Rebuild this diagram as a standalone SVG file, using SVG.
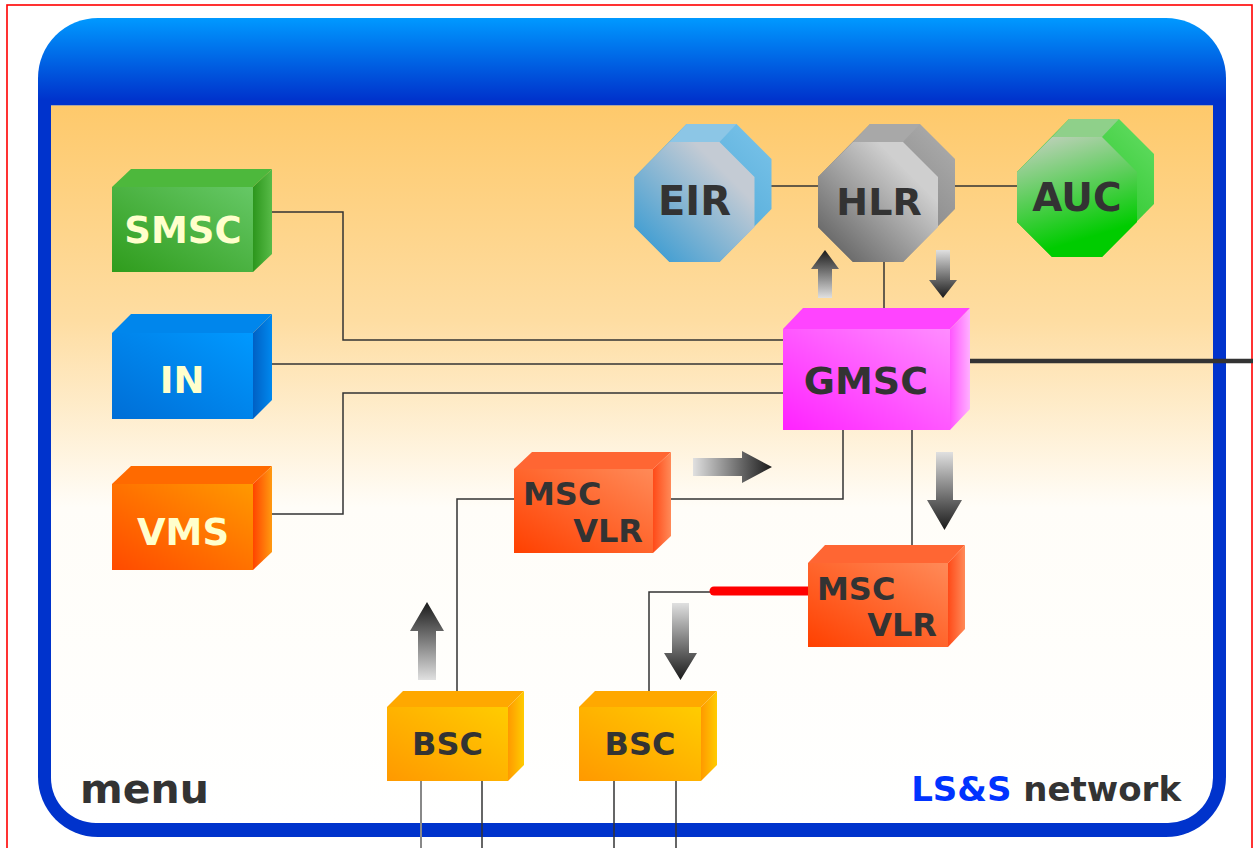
<svg xmlns="http://www.w3.org/2000/svg" width="1253" height="848" viewBox="0 0 1253 848">
  <style>
    .ln { fill: none; stroke: #333; stroke-width: 1.5; }
    .lbl { font-family: "DejaVu Sans", Verdana, sans-serif; font-weight: bold; fill: #333; }
    .lt { fill: #ffffcc; }
  </style>
  <defs>
    <!-- frame -->
    <linearGradient id="gBar" x1="0" y1="18" x2="0" y2="837" gradientUnits="userSpaceOnUse">
      <stop offset="0" stop-color="#0099ff"/>
      <stop offset="0.1" stop-color="#0033cc"/>
      <stop offset="1" stop-color="#0033cc"/>
    </linearGradient>
    <linearGradient id="gPanel" x1="0" y1="105" x2="0" y2="823" gradientUnits="userSpaceOnUse">
      <stop offset="0" stop-color="#fec96b"/>
      <stop offset="0.3" stop-color="#fedda2"/>
      <stop offset="0.56" stop-color="#fffdf8"/>
      <stop offset="1" stop-color="#ffffff"/>
    </linearGradient>
    <!-- arrows -->
    <linearGradient id="aRight" x1="0" y1="0" x2="1" y2="0">
      <stop offset="0" stop-color="#e0e0e0"/><stop offset="1" stop-color="#1a1a1a"/>
    </linearGradient>
    <linearGradient id="aUp" x1="0" y1="1" x2="0" y2="0">
      <stop offset="0" stop-color="#e0e0e0"/><stop offset="1" stop-color="#1a1a1a"/>
    </linearGradient>
    <linearGradient id="aDown" x1="0" y1="0" x2="0" y2="1">
      <stop offset="0" stop-color="#e0e0e0"/><stop offset="1" stop-color="#1a1a1a"/>
    </linearGradient>
    <!-- box faces -->
    <linearGradient id="grF" x1="0" y1="1" x2="1" y2="0"><stop offset="0" stop-color="#2f9c1c"/><stop offset="1" stop-color="#66c866"/></linearGradient>
    <linearGradient id="grS" x1="0" y1="0" x2="1" y2="0"><stop offset="0" stop-color="#2c961c"/><stop offset="1" stop-color="#58bb48"/></linearGradient>
    <linearGradient id="blF" x1="0" y1="1" x2="1" y2="0"><stop offset="0" stop-color="#006ed6"/><stop offset="1" stop-color="#0099ff"/></linearGradient>
    <linearGradient id="blS" x1="0" y1="0" x2="1" y2="0"><stop offset="0" stop-color="#0060c4"/><stop offset="1" stop-color="#0088ee"/></linearGradient>
    <linearGradient id="orF" x1="0" y1="1" x2="1" y2="0"><stop offset="0" stop-color="#ff4a00"/><stop offset="1" stop-color="#ff9900"/></linearGradient>
    <linearGradient id="orS" x1="0" y1="0" x2="1" y2="0"><stop offset="0" stop-color="#ff4400"/><stop offset="1" stop-color="#ff9a10"/></linearGradient>
    <linearGradient id="mgF" x1="0" y1="1" x2="1" y2="0"><stop offset="0" stop-color="#ff22ff"/><stop offset="1" stop-color="#ff8cff"/></linearGradient>
    <linearGradient id="mgS" x1="0" y1="0" x2="1" y2="0"><stop offset="0" stop-color="#ff55ff"/><stop offset="1" stop-color="#ffb0ff"/></linearGradient>
    <linearGradient id="rdF" x1="0" y1="1" x2="1" y2="0"><stop offset="0" stop-color="#ff4000"/><stop offset="1" stop-color="#ff8a58"/></linearGradient>
    <linearGradient id="rdS" x1="0" y1="0" x2="1" y2="0"><stop offset="0" stop-color="#ff4a18"/><stop offset="1" stop-color="#ff8a58"/></linearGradient>
    <linearGradient id="ylF" x1="0" y1="1" x2="1" y2="0"><stop offset="0" stop-color="#ff9900"/><stop offset="1" stop-color="#ffcc00"/></linearGradient>
    <linearGradient id="ylS" x1="0" y1="0" x2="1" y2="0"><stop offset="0" stop-color="#ff9900"/><stop offset="1" stop-color="#ffcc00"/></linearGradient>
    <!-- octagon faces -->
    <linearGradient id="eiF" x1="0" y1="1" x2="1" y2="0"><stop offset="0" stop-color="#2a96d2"/><stop offset="0.75" stop-color="#c4cbd4"/></linearGradient>
    <linearGradient id="eiS" x1="0" y1="1" x2="1" y2="0"><stop offset="0" stop-color="#3399cc"/><stop offset="1" stop-color="#7cc4ea"/></linearGradient>
    <linearGradient id="hlF" x1="0" y1="1" x2="1" y2="0"><stop offset="0" stop-color="#555555"/><stop offset="0.75" stop-color="#cfcfcf"/></linearGradient>
    <linearGradient id="hlS" x1="0" y1="1" x2="1" y2="0"><stop offset="0" stop-color="#666666"/><stop offset="1" stop-color="#b0b0b0"/></linearGradient>
    <linearGradient id="auF" x1="0.3" y1="0" x2="0.6" y2="1"><stop offset="0" stop-color="#b8d0b4"/><stop offset="0.85" stop-color="#00cc00"/></linearGradient>
    <linearGradient id="auS" x1="0" y1="1" x2="1" y2="0"><stop offset="0" stop-color="#00b800"/><stop offset="1" stop-color="#66dd66"/></linearGradient>
    <!-- octagon geometry around a centre point -->
    <polygon id="octHull" points="-60,-25 -8,-78 42,-78 77,-43 77,7 25,60 -25,60 -60,25"/>
    <polygon id="octTop" points="-25,-60 25,-60 42,-78 -8,-78"/>
    <polygon id="octFront" points="-25,-60 25,-60 60,-25 60,25 25,60 -25,60 -60,25 -60,-25"/>
  </defs>

  <!-- page border -->
  <rect x="7" y="5" width="1245" height="900" fill="none" stroke="#ff0000" stroke-width="1.6"/>

  <!-- frame -->
  <g id="frame">
    <rect x="38" y="18" width="1188" height="819" rx="60" ry="60" fill="url(#gBar)"/>
    <path d="M51,105 H1213 V778 A45,45 0 0 1 1168,823 H96 A45,45 0 0 1 51,778 Z" fill="url(#gPanel)"/>
    <line x1="51" y1="105.5" x2="1213" y2="105.5" stroke="#7a8cc0" stroke-width="1" opacity="0.6"/>
  </g>

  <!-- connectors -->
  <g id="connectors">
    <path class="ln" d="M272,212 H343 V340 H783"/>
    <path class="ln" d="M272,364 H783"/>
    <path class="ln" d="M272,514 H343 V393 H783"/>
    <path class="ln" d="M755,186 H818"/>
    <path class="ln" d="M938,186 H1017"/>
    <path class="ln" d="M884,262 V308"/>
    <path d="M970,361 H1253" fill="none" stroke="#333" stroke-width="4.5"/>
    <path class="ln" d="M843,430 V499 H671"/>
    <path class="ln" d="M514,499 H457 V691"/>
    <path class="ln" d="M912,430 V545"/>
    <path class="ln" d="M714,592 H649 V691"/>
    <path d="M714,591 H808" fill="none" stroke="#ff0000" stroke-width="9" stroke-linecap="round"/>
    <path d="M421,781 V848" fill="none" stroke="#888" stroke-width="2"/>
    <path class="ln" d="M482,781 V848"/>
    <path class="ln" d="M614,781 V848"/>
    <path class="ln" d="M676,781 V848"/>
  </g>

  <!-- flow arrows -->
  <g id="arrows">
    <polygon points="818,298 818,269 811,269 825,250 839,269 832,269 832,298" fill="url(#aUp)"/>
    <polygon points="936,250 950,250 950,280 957,280 943,298 929,280 936,280" fill="url(#aDown)"/>
    <polygon points="693,458 742,458 742,451 772,467 742,483 742,476 693,476" fill="url(#aRight)"/>
    <polygon points="936,452 953,452 953,500 962,500 944.5,530 927,500 936,500" fill="url(#aDown)"/>
    <polygon points="418,680 418,631 410,631 427,602 444,631 436,631 436,680" fill="url(#aUp)"/>
    <polygon points="672,603 689,603 689,653 697,653 680.5,680 664,653 672,653" fill="url(#aDown)"/>
  </g>

  <!-- database nodes -->
  <g id="node-eir" transform="translate(694.5,202)">
    <use href="#octHull" fill="url(#eiS)"/>
    <use href="#octTop" fill="#8cc6e6"/>
    <use href="#octFront" fill="url(#eiF)"/>
    <text class="lbl" x="0" y="13" font-size="40" text-anchor="middle">EIR</text>
  </g>
  <g id="node-hlr" transform="translate(878,202)">
    <use href="#octHull" fill="url(#hlS)"/>
    <use href="#octTop" fill="#a8a8a8"/>
    <use href="#octFront" fill="url(#hlF)"/>
    <text class="lbl" x="1" y="13" font-size="38" text-anchor="middle">HLR</text>
  </g>
  <g id="node-auc" transform="translate(1077,197)">
    <use href="#octHull" fill="url(#auS)"/>
    <use href="#octTop" fill="#8fd08a"/>
    <use href="#octFront" fill="url(#auF)"/>
    <text class="lbl" x="0" y="14" font-size="39" text-anchor="middle">AUC</text>
  </g>

  <!-- service nodes -->
  <g id="node-smsc">
    <polygon points="112,187 131,169 272,169 253,187" fill="#4db83c"/>
    <polygon points="253,187 272,169 272,254 253,272" fill="url(#grS)"/>
    <rect x="112" y="187" width="141" height="85" fill="url(#grF)"/>
    <text class="lbl lt" x="183" y="243" font-size="37" text-anchor="middle">SMSC</text>
  </g>
  <g id="node-in">
    <polygon points="112,333 131,314 272,314 253,333" fill="#0086ec"/>
    <polygon points="253,333 272,314 272,400 253,419" fill="url(#blS)"/>
    <rect x="112" y="333" width="141" height="86" fill="url(#blF)"/>
    <text class="lbl lt" x="182" y="393" font-size="37" text-anchor="middle">IN</text>
  </g>
  <g id="node-vms">
    <polygon points="112,484 131,466 272,466 253,484" fill="#ff6a00"/>
    <polygon points="253,484 272,466 272,552 253,570" fill="url(#orS)"/>
    <rect x="112" y="484" width="141" height="86" fill="url(#orF)"/>
    <text class="lbl lt" x="183" y="545" font-size="37" text-anchor="middle">VMS</text>
  </g>

  <!-- switching nodes -->
  <g id="node-gmsc">
    <polygon points="783,329 803,308 970,308 950,329" fill="#ff44ff"/>
    <polygon points="950,329 970,308 970,409 950,430" fill="url(#mgS)"/>
    <rect x="783" y="329" width="167" height="101" fill="url(#mgF)"/>
    <text class="lbl" x="866" y="394" font-size="38" text-anchor="middle">GMSC</text>
  </g>
  <g id="node-msc-vlr-1">
    <polygon points="514,469 532,452 671,452 653,469" fill="#ff6633"/>
    <polygon points="653,469 671,452 671,536 653,553" fill="url(#rdS)"/>
    <rect x="514" y="469" width="139" height="84" fill="url(#rdF)"/>
    <text class="lbl" x="523" y="505" font-size="32">MSC</text>
    <text class="lbl" x="643" y="542" font-size="32" text-anchor="end">VLR</text>
  </g>
  <g id="node-msc-vlr-2">
    <polygon points="808,563 825,545 965,545 948,563" fill="#ff6633"/>
    <polygon points="948,563 965,545 965,629 948,647" fill="url(#rdS)"/>
    <rect x="808" y="563" width="140" height="84" fill="url(#rdF)"/>
    <text class="lbl" x="817" y="600" font-size="32">MSC</text>
    <text class="lbl" x="937" y="636" font-size="32" text-anchor="end">VLR</text>
  </g>
  <g id="node-bsc-1">
    <polygon points="387,707 403,691 524,691 508,707" fill="#ffa800"/>
    <polygon points="508,707 524,691 524,765 508,781" fill="url(#ylS)"/>
    <rect x="387" y="707" width="121" height="74" fill="url(#ylF)"/>
    <text class="lbl" x="447.5" y="755" font-size="32" text-anchor="middle">BSC</text>
  </g>
  <g id="node-bsc-2">
    <polygon points="579,707 595,691 717,691 701,707" fill="#ffa800"/>
    <polygon points="701,707 717,691 717,765 701,781" fill="url(#ylS)"/>
    <rect x="579" y="707" width="122" height="74" fill="url(#ylF)"/>
    <text class="lbl" x="640" y="755" font-size="32" text-anchor="middle">BSC</text>
  </g>

  <!-- captions -->
  <g id="captions">
    <text class="lbl" x="80" y="803" font-size="41">menu</text>
    <text class="lbl" x="1181" y="801" font-size="34" text-anchor="end"><tspan fill="#0033ff">LS&amp;S</tspan> network</text>
  </g>
</svg>
